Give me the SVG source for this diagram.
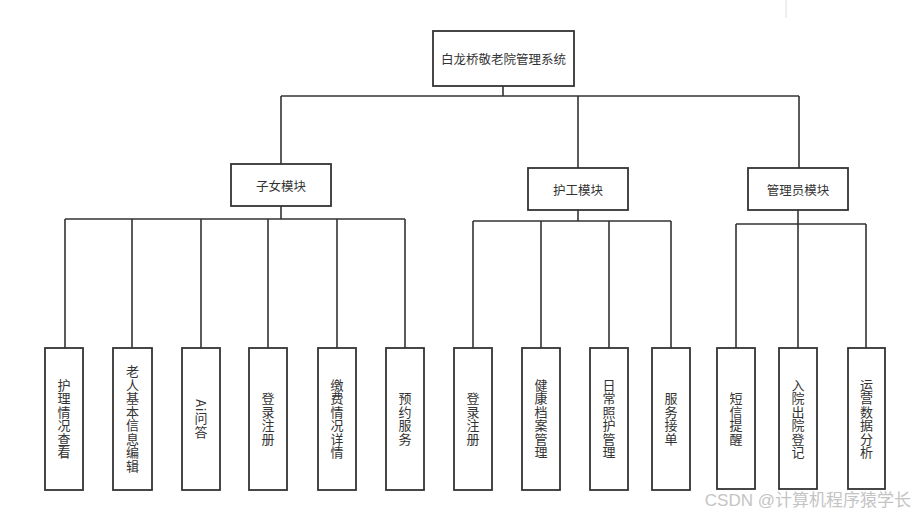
<svg xmlns="http://www.w3.org/2000/svg" width="914" height="515" viewBox="0 0 914 515">
<style>
.box{fill:#fff;stroke:#333;stroke-width:1.8}
.ln{fill:none;stroke:#333;stroke-width:1.6}
.t{font-family:"Noto Sans CJK SC","Liberation Sans",sans-serif;font-size:12.5px;fill:#333;text-anchor:middle;dominant-baseline:central}
.v{font-family:"Noto Sans CJK SC","Liberation Sans",sans-serif;font-size:13px;fill:#333;text-anchor:middle;writing-mode:vertical-rl;letter-spacing:0.5px}
.wm{font-family:"Liberation Sans","Noto Sans CJK SC",sans-serif;font-size:17px;fill:#c4c4c4;text-anchor:end}
</style>
<rect width="914" height="515" fill="#fff"/>
<line x1="786" y1="0" x2="786" y2="18" stroke="#ddd" stroke-width="1"/>
<g id="connectors" class="ln">
<path d="M503 86V96M281 96H799M281 96V164M578 96V168M799 96V168"/>
<path d="M281 206V219M65 219H405M65 219V348M132 219V348M201 219V348M268 219V348M337 219V348M405 219V348"/>
<path d="M578 210V221M473 221H671M473 221V348M541 221V348M609 221V348M671 221V348"/>
<path d="M798 210V224M736 224H866M736 224V348M798 224V348M866 224V348"/>
</g>
<g id="root"><rect class="box" x="433" y="31" width="141" height="55"/><text class="t" x="503.5" y="58.5">白龙桥敬老院管理系统</text></g>
<g id="m1"><rect class="box" x="231" y="164" width="100" height="42"/><text class="t" x="281" y="185">子女模块</text></g>
<g id="m2"><rect class="box" x="528" y="168" width="100" height="42"/><text class="t" x="578" y="189">护工模块</text></g>
<g id="m3"><rect class="box" x="748" y="168" width="100" height="42"/><text class="t" x="798" y="189">管理员模块</text></g>
<g id="a1"><rect class="box" x="45" y="348" width="38" height="142"/><text class="v" x="64" y="419">护理情况查看</text></g>
<g id="a2"><rect class="box" x="113" y="348" width="39" height="142"/><text class="v" x="132.5" y="419">老人基本信息编辑</text></g>
<g id="a3"><rect class="box" x="182" y="348" width="38" height="142"/><text class="v" x="201" y="419">Ai问答</text></g>
<g id="a4"><rect class="box" x="249" y="348" width="38" height="142"/><text class="v" x="268" y="419">登录注册</text></g>
<g id="a5"><rect class="box" x="318" y="348" width="38" height="142"/><text class="v" x="337" y="419">缴费情况详情</text></g>
<g id="a6"><rect class="box" x="386" y="348" width="38" height="142"/><text class="v" x="405" y="419">预约服务</text></g>
<g id="b1"><rect class="box" x="454" y="348" width="38" height="142"/><text class="v" x="473" y="419">登录注册</text></g>
<g id="b2"><rect class="box" x="522" y="348" width="38" height="142"/><text class="v" x="541" y="419">健康档案管理</text></g>
<g id="b3"><rect class="box" x="590" y="348" width="38" height="142"/><text class="v" x="609" y="419">日常照护管理</text></g>
<g id="b4"><rect class="box" x="652" y="348" width="38" height="142"/><text class="v" x="671" y="419">服务接单</text></g>
<g id="c1"><rect class="box" x="717" y="348" width="38" height="141"/><text class="v" x="736" y="419">短信提醒</text></g>
<g id="c2"><rect class="box" x="779" y="348" width="38" height="141"/><text class="v" x="798" y="419">入院出院登记</text></g>
<g id="c3"><rect class="box" x="848" y="348" width="37" height="141"/><text class="v" x="866.5" y="419">运营数据分析</text></g>
<text class="wm" x="911" y="506">CSDN @计算机程序猿学长</text>
</svg>
